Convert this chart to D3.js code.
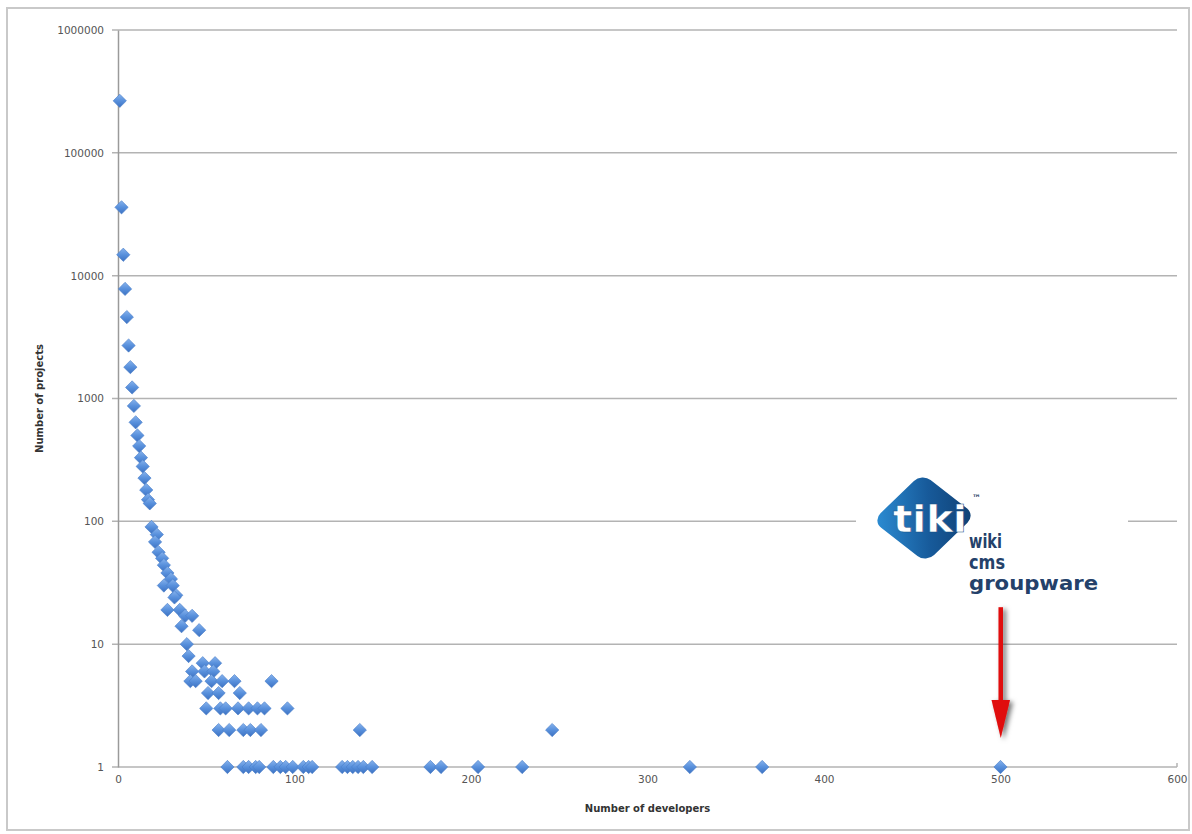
<!DOCTYPE html>
<html>
<head>
<meta charset="utf-8">
<script src="https://cdn.jsdelivr.net/npm/d3@7"></script>
<style>
  html, body { margin: 0; padding: 0; background: #fff; }
  svg { display: block; }
</style>
</head>
<body>
<svg id="chart" width="1192" height="834"></svg>
<script>
// ---- data ----
const developers = [1,2,3,4,5,6,7,8,9,10,11,12,13,14,15,16,17,18,
  19,22,21,23,25,26,28,30,26,31,33,32,28,35,38,42,36,46,39,40,
  48,55,42,49,54,41,44,53,59,66,87,51,57,69,
  50,58,61,68,74,79,83,96,
  57,63,71,75,81,137,246,
  62,71,74,78,80,88,92,95,99,105,108,110,127,130,133,136,139,144,177,183,204,229,324,365,500];
const projects = [265000,36000,14800,7800,4600,2700,1800,1230,870,640,500,410,330,280,225,180,150,140,
  90,78,68,56,50,44,38,34,30,30,25,24,19,19,17,17,14,13,10,8,
  7,7,6,6,6,5,5,5,5,5,5,4,4,4,
  3,3,3,3,3,3,3,3,
  2,2,2,2,2,2,2,
  1,1,1,1,1,1,1,1,1,1,1,1,1,1,1,1,1,1,1,1,1,1,1,1,1];
const xTicks = [0,100,200,300,400,500,600];
const yTicks = [1,10,100,1000,10000,100000,1000000];
const xTitle = "Number of developers";
const yTitle = "Number of projects";
const logoWords = ["wiki","cms","groupware"];
const arrowFrom = [500, 20];   // data coords of arrow tail (dev, projects)
const arrowTo = [500, 1.72];   // data coords of arrow tip

const svg = d3.select("#chart");
const W = 1192, H = 834;
const m = {left: 118, right: 15, top: 30, bottom: 67};

const x = d3.scaleLinear().domain([0, 600]).range([m.left, W - m.right]);
const y = d3.scaleLog().domain([1, 1000000]).range([H - m.bottom, m.top]);

const defs = svg.append("defs");
const grad = defs.append("linearGradient").attr("id","dg")
  .attr("x1","0").attr("y1","0").attr("x2","1").attr("y2","1");
grad.append("stop").attr("offset","0%").attr("stop-color","#86b2ec");
grad.append("stop").attr("offset","50%").attr("stop-color","#5890dc");
grad.append("stop").attr("offset","100%").attr("stop-color","#3d72c2");

const lg = defs.append("linearGradient").attr("id","logoG")
  .attr("x1","0").attr("y1","1").attr("x2","1").attr("y2","0");
lg.append("stop").attr("offset","0%").attr("stop-color","#2d8fd6");
lg.append("stop").attr("offset","55%").attr("stop-color","#175a9a");
lg.append("stop").attr("offset","100%").attr("stop-color","#0f3f72");

const sh = defs.append("filter").attr("id","shadow").attr("x","-50%").attr("y","-20%").attr("width","200%").attr("height","150%");
sh.append("feDropShadow").attr("dx",3).attr("dy",2).attr("stdDeviation",2.5).attr("flood-color","#000").attr("flood-opacity",0.55);

// frame
svg.append("rect").attr("x",7).attr("y",8).attr("width",1182).attr("height",822)
  .attr("fill","none").attr("stroke","#c9c9c9").attr("stroke-width",2);

// gridlines
svg.append("g").selectAll("line").data(yTicks).join("line")
  .attr("x1", m.left - 6).attr("x2", x(600))
  .attr("y1", d => y(d)).attr("y2", d => y(d))
  .attr("stroke", "#b3b3b3").attr("stroke-width", 1.5);

// y axis
const yAxis = d3.axisLeft(y).tickValues(yTicks).tickFormat(d3.format("d")).tickSize(0).tickPadding(14);
const gy = svg.append("g").attr("transform", `translate(${m.left},0)`).call(yAxis);
gy.select(".domain").attr("stroke","#9a9a9a").attr("stroke-width",1.5);
gy.selectAll("text").attr("font-family","DejaVu Sans").attr("font-size",10.5).attr("fill","#555");

// x axis
const xAxis = d3.axisBottom(x).tickValues(xTicks).tickFormat(d3.format("d")).tickSize(0).tickPadding(9);
const gx = svg.append("g").attr("transform", `translate(0,${y(1)})`).call(xAxis);
gx.select(".domain").remove();
gx.selectAll("text").attr("font-family","DejaVu Sans").attr("font-size",10.5).attr("fill","#555");
svg.append("line").attr("x1", x(600)).attr("x2", x(600)).attr("y1", y(1)).attr("y2", y(1)-4)
  .attr("stroke","#b3b3b3").attr("stroke-width",1.5);

// titles
svg.append("text").attr("x", (x(0)+x(600))/2).attr("y", 812).attr("text-anchor","middle")
  .attr("font-family","DejaVu Sans").attr("font-weight","bold").attr("font-size",10).attr("fill","#333")
  .text(xTitle);
svg.append("text").attr("transform", `translate(43,${(y(1)+y(1000000))/2}) rotate(-90)`).attr("text-anchor","middle")
  .attr("font-family","DejaVu Sans").attr("font-weight","bold").attr("font-size",10).attr("fill","#333")
  .text(yTitle);

// points
const pts = developers.map((d,i) => ({d, p: projects[i]}));
const diamond = d3.symbol().type(d3.symbolSquare).size(88);
svg.append("g").selectAll("path").data(pts).join("path")
  .attr("d", diamond)
  .attr("transform", d => `translate(${x(d.d)},${y(d.p)}) rotate(45)`)
  .attr("fill", "url(#dg)").attr("stroke","#4a7fc9").attr("stroke-width",0.6);

// logo (white patch interrupts gridline)
const lx = 856, ly = 462;
svg.append("rect").attr("x", lx).attr("y", ly).attr("width", 272).attr("height", 140).attr("fill","#fff");
const cx = 924, cy = 518;
svg.append("rect").attr("x", -34).attr("y", -34).attr("width", 68).attr("height", 68).attr("rx", 11)
  .attr("transform", `translate(${cx},${cy}) rotate(38) skewX(-8)`)
  .attr("fill","url(#logoG)");
svg.append("text").attr("x", 893).attr("y", 532).attr("font-family","DejaVu Sans")
  .attr("font-weight","bold").attr("font-size", 38).attr("fill","#fff").attr("stroke","#1a4f86").attr("stroke-width",0.5)
  .attr("textLength", 74).attr("lengthAdjust","spacingAndGlyphs").text("tiki");
svg.append("text").attr("x", 972).attr("y", 501).attr("font-family","DejaVu Sans")
  .attr("font-weight","bold").attr("font-size", 9).attr("fill","#2a4466").text("™");
const wordLen = [33, 36, 129];
svg.append("g").selectAll("text").data(logoWords).join("text")
  .attr("x", 969).attr("y", (d,i) => 548 + i*21)
  .attr("font-family","DejaVu Sans Condensed, DejaVu Sans").attr("font-weight","bold")
  .attr("font-size", 19).attr("fill","#24416a")
  .attr("textLength", (d,i) => wordLen[i]).attr("lengthAdjust","spacingAndGlyphs")
  .text(d => d);

// red arrow
const ax = x(arrowFrom[0]), ay0 = y(arrowFrom[1]), ay1 = y(arrowTo[1]);
const ag = svg.append("g").attr("filter","url(#shadow)");
ag.append("rect").attr("x", ax - 2).attr("y", ay0).attr("width", 4.5).attr("height", (ay1 - ay0) - 34).attr("fill","#e00a0a");
ag.append("path").attr("d", `M${ax-9},${ay1-38} L${ax+9.5},${ay1-38} L${ax+0.25},${ay1} Z`).attr("fill","#e00a0a");
</script>
</body>
</html>
